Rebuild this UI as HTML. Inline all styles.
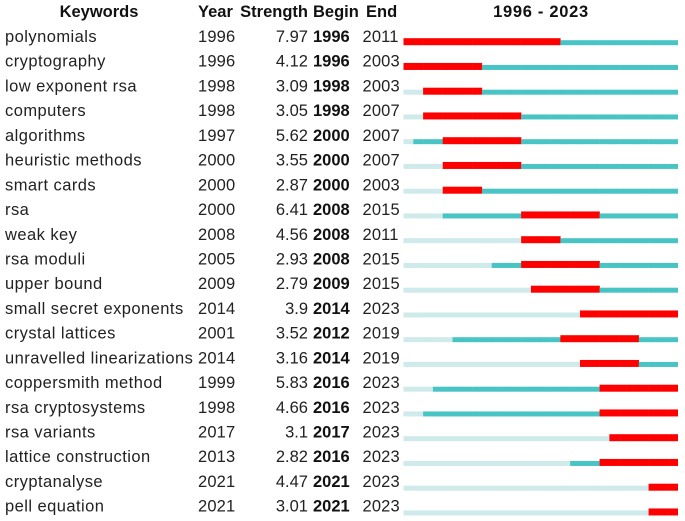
<!DOCTYPE html>
<html>
<head>
<meta charset="utf-8">
<style>
html,body{margin:0;padding:0;background:#fff;width:685px;height:521px;overflow:hidden}
svg{display:block}
text{font-family:"Liberation Sans",sans-serif;font-size:16.5px;fill:#222}
.h{font-weight:bold;fill:#111}
.b{font-weight:bold;fill:#111}
.k{letter-spacing:0.45px}
.n{letter-spacing:0.15px}
</style>
</head>
<body>
<svg id="chart" width="685" height="521" viewBox="0 0 685 521" xmlns="http://www.w3.org/2000/svg">
<text class="h" x="99" y="17" text-anchor="middle">Keywords</text>
<text class="h" x="198" y="17">Year</text>
<text class="h" x="308" y="17" text-anchor="end">Strength</text>
<text class="h" x="313" y="17">Begin</text>
<text class="h" x="366" y="17">End</text>
<text class="h" id="range" x="541" y="17" text-anchor="middle" style="letter-spacing:0.7px"></text>
</svg>
<script>
const keywords = ["polynomials","cryptography","low exponent rsa","computers","algorithms","heuristic methods","smart cards","rsa","weak key","rsa moduli","upper bound","small secret exponents","crystal lattices","unravelled linearizations","coppersmith method","rsa cryptosystems","rsa variants","lattice construction","cryptanalyse","pell equation"];
const years = [1996,1996,1998,1998,1997,2000,2000,2000,2008,2005,2009,2014,2001,2014,1999,1998,2017,2013,2021,2021];
const strengths = ["7.97","4.12","3.09","3.05","5.62","3.55","2.87","6.41","4.56","2.93","2.79","3.9","3.52","3.16","5.83","4.66","3.1","2.82","4.47","3.01"];
const begins = [1996,1996,1998,1998,2000,2000,2000,2008,2008,2008,2009,2014,2012,2014,2016,2016,2017,2016,2021,2021];
const ends = [2011,2003,2003,2007,2007,2007,2003,2015,2011,2015,2015,2023,2019,2019,2023,2023,2023,2023,2023,2023];
const startYear = 1996;
const endYear = 2023;

const svg = document.getElementById('chart');
const NS = 'http://www.w3.org/2000/svg';
const xScale = function (yr) { return 403.5 + (yr - startYear) * (678 - 403.5) / (endYear - startYear + 1); };
const rowText = function (i) { return 42 + i * 24.72; };
const rowBottom = function (i) { return 45.2 + i * 24.75; };
const burstH = 7;
const baseH = 5;

document.getElementById('range').textContent = startYear + ' - ' + endYear;

function addText(str, x, y, cls, anchor, name) {
  const t = document.createElementNS(NS, 'text');
  t.setAttribute('x', x);
  t.setAttribute('y', y);
  if (cls) t.setAttribute('class', cls);
  if (anchor) t.setAttribute('text-anchor', anchor);
  t.textContent = str;
  
  
  svg.appendChild(t);
}
function addCell(yr, i, fill, h, name) {
  const r = document.createElementNS(NS, 'rect');
  const x0 = xScale(yr);
  const overlap = yr < endYear ? 0.25 : 0;
  r.setAttribute('x', x0);
  r.setAttribute('y', rowBottom(i) - h);
  r.setAttribute('width', xScale(yr + 1) - x0 + overlap);
  r.setAttribute('height', h);
  r.setAttribute('fill', fill);
  
  
  svg.appendChild(r);
}
keywords.forEach(function (k, i) {
  const y = rowText(i);
  addText(k, 5, y, 'k', '', 'keyword-label');
  addText(String(years[i]), 198, y, 'n', '', 'year-value');
  addText(strengths[i], 308, y, '', 'end', 'strength-value');
  addText(String(begins[i]), 313, y, 'b', '', 'begin-value');
  addText(String(ends[i]), 362.5, y, 'n', '', 'end-value');
  for (let yr = startYear; yr <= endYear; yr++) {
    if (yr >= begins[i] && yr <= ends[i]) {
      addCell(yr, i, '#ff0000', burstH, 'burst-cell');
    } else if (yr >= years[i]) {
      addCell(yr, i, '#48c4c4', baseH, 'active-cell');
    } else {
      addCell(yr, i, '#cfeaea', baseH, 'inactive-cell');
    }
  }
});
</script>
</body>
</html>
